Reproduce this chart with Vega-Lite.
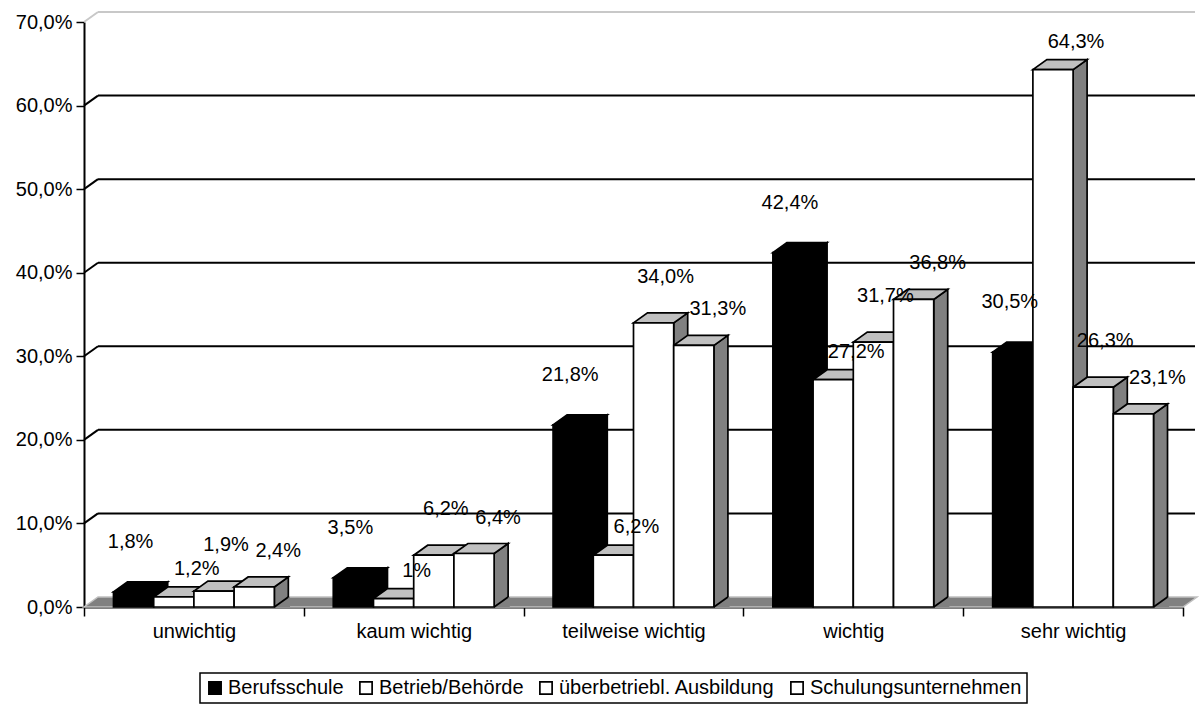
{
  "$schema": "https://vega.github.io/schema/vega-lite/v6.json",
  "width": 1099,
  "height": 585,
  "autosize": {"type": "none"},
  "padding": {"left": 84, "top": 22, "right": 16, "bottom": 104},
  "background": "white",
  "config": {
    "font": "Liberation Sans",
    "view": {"stroke": null},
    "axis": {"domainColor": "black", "domainWidth": 2, "tickColor": "black", "tickWidth": 1.5, "labelFontSize": 20, "labelColor": "black", "grid": false, "zindex": 1, "title": null},
    "axisX": {"tickSize": 9, "labelPadding": 5, "labelAngle": 0, "tickBand": "extent"},
    "axisY": {"tickSize": 8, "labelPadding": 4},
    "legend": {"strokeColor": "black", "strokeWidth": 1.5}
  },
  "datasets": {
    "bars": [
      {"cat": "unwichtig", "series": "Berufsschule", "value": 1.8, "label": "1,8%"},
      {"cat": "unwichtig", "series": "Betrieb/Behörde", "value": 1.2, "label": "1,2%"},
      {"cat": "unwichtig", "series": "überbetriebl. Ausbildung", "value": 1.9, "label": "1,9%"},
      {"cat": "unwichtig", "series": "Schulungsunternehmen", "value": 2.4, "label": "2,4%"},
      {"cat": "kaum wichtig", "series": "Berufsschule", "value": 3.5, "label": "3,5%"},
      {"cat": "kaum wichtig", "series": "Betrieb/Behörde", "value": 1.0, "label": "1%"},
      {"cat": "kaum wichtig", "series": "überbetriebl. Ausbildung", "value": 6.2, "label": "6,2%"},
      {"cat": "kaum wichtig", "series": "Schulungsunternehmen", "value": 6.4, "label": "6,4%"},
      {"cat": "teilweise wichtig", "series": "Berufsschule", "value": 21.8, "label": "21,8%"},
      {"cat": "teilweise wichtig", "series": "Betrieb/Behörde", "value": 6.2, "label": "6,2%"},
      {"cat": "teilweise wichtig", "series": "überbetriebl. Ausbildung", "value": 34.0, "label": "34,0%"},
      {"cat": "teilweise wichtig", "series": "Schulungsunternehmen", "value": 31.3, "label": "31,3%"},
      {"cat": "wichtig", "series": "Berufsschule", "value": 42.4, "label": "42,4%"},
      {"cat": "wichtig", "series": "Betrieb/Behörde", "value": 27.2, "label": "27,2%"},
      {"cat": "wichtig", "series": "überbetriebl. Ausbildung", "value": 31.7, "label": "31,7%"},
      {"cat": "wichtig", "series": "Schulungsunternehmen", "value": 36.8, "label": "36,8%"},
      {"cat": "sehr wichtig", "series": "Berufsschule", "value": 30.5, "label": "30,5%"},
      {"cat": "sehr wichtig", "series": "Betrieb/Behörde", "value": 64.3, "label": "64,3%"},
      {"cat": "sehr wichtig", "series": "überbetriebl. Ausbildung", "value": 26.3, "label": "26,3%"},
      {"cat": "sehr wichtig", "series": "Schulungsunternehmen", "value": 23.1, "label": "23,1%"}
    ],
    "grid": [{"g": 0}, {"g": 10}, {"g": 20}, {"g": 30}, {"g": 40}, {"g": 50}, {"g": 60}, {"g": 70}]
  },
  "data": {"name": "bars"},
  "layer": [
    {
      "data": {"name": "grid"},
      "transform": [{"filter": "datum.g > 0 && datum.g < 70"}],
      "mark": {"type": "rule", "color": "black", "strokeWidth": 2, "yOffset": -10, "xOffset": 14, "x2Offset": 12},
      "encoding": {
        "y": {"field": "g", "type": "quantitative", "scale": {"domain": [0, 70], "nice": false}, "title": null},
        "x": {"value": 0},
        "x2": {"value": "width"}
      }
    },
    {
      "data": {"name": "grid"},
      "transform": [{"filter": "datum.g > 0 && datum.g < 70"}],
      "mark": {"type": "point", "shape": "M0 0 L14 -10", "size": 4, "filled": false, "stroke": "black", "strokeWidth": 2, "opacity": 1},
      "encoding": {
        "y": {"field": "g", "type": "quantitative", "title": null},
        "x": {"value": 0}
      }
    },
    {
      "data": {"name": "grid"},
      "transform": [{"filter": "datum.g == 70"}],
      "mark": {"type": "rule", "color": "#c8c8c8", "strokeWidth": 2, "yOffset": -10, "xOffset": 14, "x2Offset": 12},
      "encoding": {
        "y": {"field": "g", "type": "quantitative", "title": null},
        "x": {"value": 0},
        "x2": {"value": "width"}
      }
    },
    {
      "data": {"name": "grid"},
      "transform": [{"filter": "datum.g == 70"}],
      "mark": {"type": "point", "shape": "M0 0 L14 -10", "size": 4, "filled": false, "stroke": "#c8c8c8", "strokeWidth": 2, "opacity": 1},
      "encoding": {
        "y": {"field": "g", "type": "quantitative", "title": null},
        "x": {"value": 0}
      }
    },
    {
      "data": {"name": "grid"},
      "transform": [{"filter": "datum.g == 0"}],
      "mark": {"type": "point", "shape": "M0 0 L1099 0 L1113 -10 L14 -10 Z", "size": 4, "filled": true, "fill": "#808080", "stroke": "#c0c0c0", "strokeWidth": 1.5, "opacity": 1},
      "encoding": {
        "y": {"field": "g", "type": "quantitative", "title": null},
        "x": {"value": 0}
      }
    },
    {
      "mark": {"type": "point", "shape": "M20.1 0 L34.1 -10 L34.1 700 L20.1 700 Z", "size": 4, "filled": true, "stroke": "black", "strokeWidth": 1.7, "opacity": 1, "clip": true},
      "encoding": {
        "x": {"field": "cat", "type": "nominal", "sort": ["unwichtig", "kaum wichtig", "teilweise wichtig", "wichtig", "sehr wichtig"], "scale": {"paddingInner": 0, "paddingOuter": 0}, "title": null},
        "xOffset": {"field": "series", "type": "nominal", "sort": ["Berufsschule", "Betrieb/Behörde", "überbetriebl. Ausbildung", "Schulungsunternehmen"], "scale": {"paddingInner": 0, "paddingOuter": 0.733}},
        "y": {"field": "value", "type": "quantitative", "title": null},
        "fill": {"condition": {"test": "datum.series === 'Berufsschule'", "value": "black"}, "value": "#808080"}
      }
    },
    {
      "transform": [{"filter": "datum.series === 'Schulungsunternehmen'"}],
      "mark": {"type": "point", "shape": "M20.1 0 L34.1 -10 L35.8 -10 L35.8 0 Z", "size": 4, "filled": true, "fill": "#808080", "strokeWidth": 0, "opacity": 1},
      "encoding": {
        "x": {"field": "cat", "type": "nominal", "sort": ["unwichtig", "kaum wichtig", "teilweise wichtig", "wichtig", "sehr wichtig"], "title": null},
        "xOffset": {"field": "series", "type": "nominal", "sort": ["Berufsschule", "Betrieb/Behörde", "überbetriebl. Ausbildung", "Schulungsunternehmen"]},
        "y": {"datum": 0, "type": "quantitative"}
      }
    },
    {
      "transform": [{"filter": "datum.series === 'Schulungsunternehmen'"}],
      "mark": {"type": "point", "shape": "M20.1 0 L34.1 -10", "size": 4, "filled": false, "stroke": "black", "strokeWidth": 1.7, "opacity": 1},
      "encoding": {
        "x": {"field": "cat", "type": "nominal", "sort": ["unwichtig", "kaum wichtig", "teilweise wichtig", "wichtig", "sehr wichtig"], "title": null},
        "xOffset": {"field": "series", "type": "nominal", "sort": ["Berufsschule", "Betrieb/Behörde", "überbetriebl. Ausbildung", "Schulungsunternehmen"]},
        "y": {"datum": 0, "type": "quantitative"}
      }
    },
    {
      "mark": {"type": "point", "shape": "M-20.1 0 L20.1 0 L34.1 -10 L-6.1 -10 Z", "size": 4, "filled": true, "stroke": "black", "strokeWidth": 1.7, "opacity": 1},
      "encoding": {
        "x": {"field": "cat", "type": "nominal", "sort": ["unwichtig", "kaum wichtig", "teilweise wichtig", "wichtig", "sehr wichtig"], "title": null},
        "xOffset": {"field": "series", "type": "nominal", "sort": ["Berufsschule", "Betrieb/Behörde", "überbetriebl. Ausbildung", "Schulungsunternehmen"]},
        "y": {"field": "value", "type": "quantitative", "title": null},
        "fill": {"condition": {"test": "datum.series === 'Berufsschule'", "value": "black"}, "value": "#c0c0c0"}
      }
    },
    {
      "mark": {"type": "bar", "stroke": "black", "strokeWidth": 1.7, "opacity": 1},
      "encoding": {
        "x": {"field": "cat", "type": "nominal", "sort": ["unwichtig", "kaum wichtig", "teilweise wichtig", "wichtig", "sehr wichtig"], "title": null},
        "xOffset": {"field": "series", "type": "nominal", "sort": ["Berufsschule", "Betrieb/Behörde", "überbetriebl. Ausbildung", "Schulungsunternehmen"]},
        "y": {"field": "value", "type": "quantitative", "title": null, "axis": {"values": [0, 10, 20, 30, 40, 50, 60, 70], "labelExpr": "replace(format(datum.value, '.1f'), '.', ',') + '%'"}},
        "fill": {
          "field": "series", "type": "nominal",
          "sort": ["Berufsschule", "Betrieb/Behörde", "überbetriebl. Ausbildung", "Schulungsunternehmen"],
          "scale": {"domain": ["Berufsschule", "Betrieb/Behörde", "überbetriebl. Ausbildung", "Schulungsunternehmen"], "range": ["black", "white", "white", "white"]},
          "legend": {"orient": "none", "legendX": 116, "legendY": 651, "direction": "horizontal", "title": null, "padding": 5, "symbolType": "square", "symbolSize": 150, "symbolStrokeColor": "black", "symbolStrokeWidth": 1.7, "labelFontSize": 20, "labelColor": "black", "labelLimit": 0, "columnPadding": 12, "labelOffset": 3}
        }
      }
    },
    {
      "transform": [{"filter": "datum.series === 'Berufsschule'"}],
      "mark": {"type": "text", "fontSize": 20, "color": "black", "baseline": "middle", "align": "center", "dx": -3, "dy": -50},
      "encoding": {
        "x": {"field": "cat", "type": "nominal", "sort": ["unwichtig", "kaum wichtig", "teilweise wichtig", "wichtig", "sehr wichtig"], "title": null},
        "xOffset": {"field": "series", "type": "nominal", "sort": ["Berufsschule", "Betrieb/Behörde", "überbetriebl. Ausbildung", "Schulungsunternehmen"]},
        "y": {"field": "value", "type": "quantitative", "title": null},
        "text": {"field": "label"}
      }
    },
    {
      "transform": [{"filter": "datum.series === 'Betrieb/Behörde'"}],
      "mark": {"type": "text", "fontSize": 20, "color": "black", "baseline": "middle", "align": "center", "dx": 23, "dy": -28},
      "encoding": {
        "x": {"field": "cat", "type": "nominal", "sort": ["unwichtig", "kaum wichtig", "teilweise wichtig", "wichtig", "sehr wichtig"], "title": null},
        "xOffset": {"field": "series", "type": "nominal", "sort": ["Berufsschule", "Betrieb/Behörde", "überbetriebl. Ausbildung", "Schulungsunternehmen"]},
        "y": {"field": "value", "type": "quantitative", "title": null},
        "text": {"field": "label"}
      }
    },
    {
      "transform": [{"filter": "datum.series === 'überbetriebl. Ausbildung'"}],
      "mark": {"type": "text", "fontSize": 20, "color": "black", "baseline": "middle", "align": "center", "dx": 12, "dy": -46},
      "encoding": {
        "x": {"field": "cat", "type": "nominal", "sort": ["unwichtig", "kaum wichtig", "teilweise wichtig", "wichtig", "sehr wichtig"], "title": null},
        "xOffset": {"field": "series", "type": "nominal", "sort": ["Berufsschule", "Betrieb/Behörde", "überbetriebl. Ausbildung", "Schulungsunternehmen"]},
        "y": {"field": "value", "type": "quantitative", "title": null},
        "text": {"field": "label"}
      }
    },
    {
      "transform": [{"filter": "datum.series === 'Schulungsunternehmen'"}],
      "mark": {"type": "text", "fontSize": 20, "color": "black", "baseline": "middle", "align": "center", "dx": 24, "dy": -36},
      "encoding": {
        "x": {"field": "cat", "type": "nominal", "sort": ["unwichtig", "kaum wichtig", "teilweise wichtig", "wichtig", "sehr wichtig"], "title": null},
        "xOffset": {"field": "series", "type": "nominal", "sort": ["Berufsschule", "Betrieb/Behörde", "überbetriebl. Ausbildung", "Schulungsunternehmen"]},
        "y": {"field": "value", "type": "quantitative", "title": null},
        "text": {"field": "label"}
      }
    }
  ]
}
